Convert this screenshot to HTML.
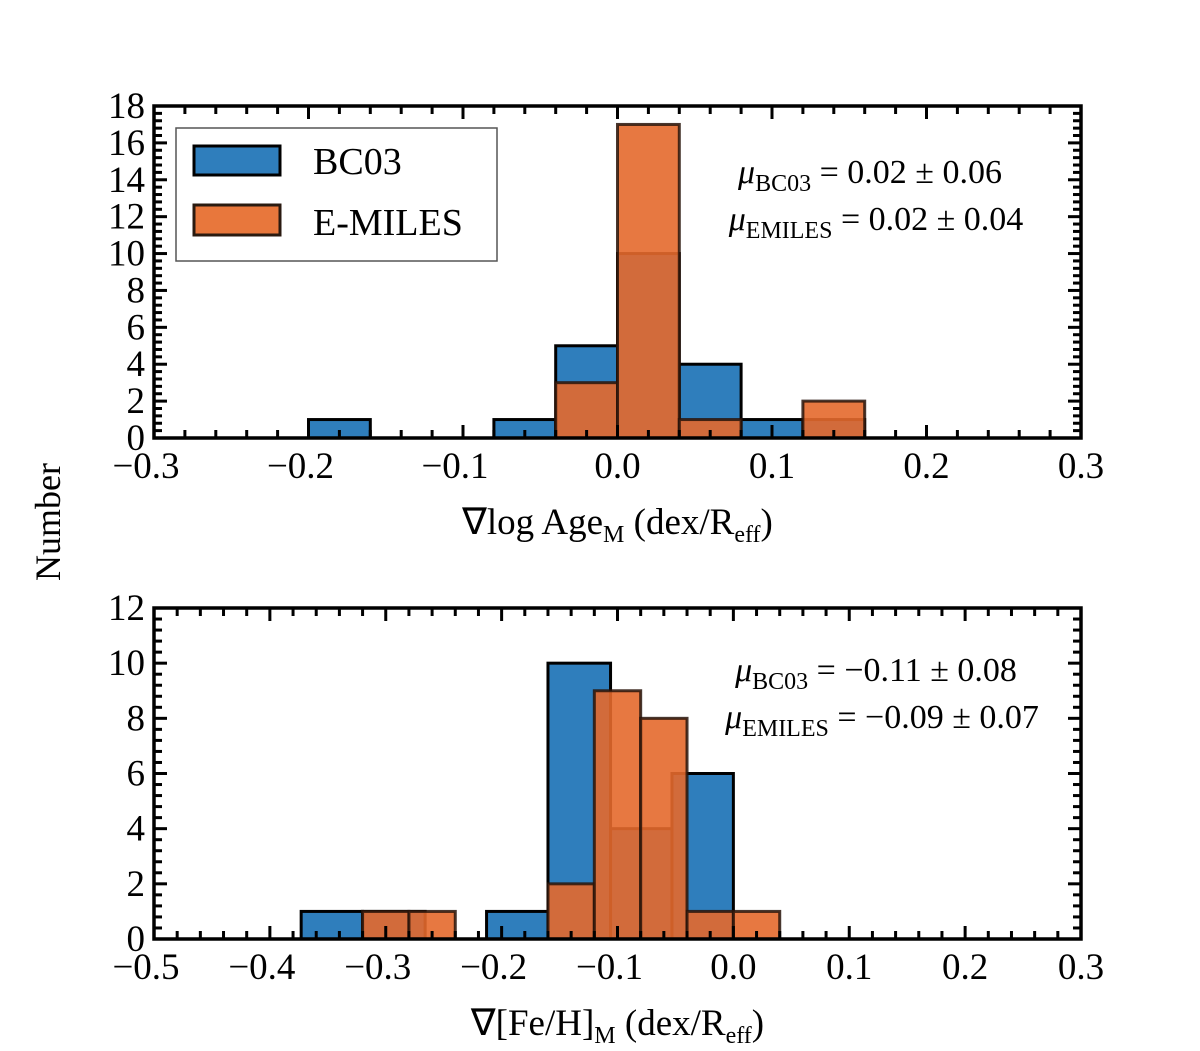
<!DOCTYPE html>
<html><head><meta charset="utf-8"><style>
body{margin:0;background:#fff}
svg text{font-family:"Liberation Serif",serif;fill:#000}
</style></head><body>
<svg id="c" width="1200" height="1046" xmlns="http://www.w3.org/2000/svg"></svg>
<script>
// Top panel data
const topBlueEdges=[-0.2,-0.16,-0.12,-0.08,-0.04,0,0.04,0.08,0.12,0.16];
const topBlueCounts=[1,0,0,1,5,10,4,1,1];
const topOrangeEdges=[-0.04,0,0.04,0.08,0.12,0.16];
const topOrangeCounts=[3,17,1,0,2];
const topXTicks=[-0.3,-0.2,-0.1,0.0,0.1,0.2,0.3];
const topXTickLabels=["\u22120.3","\u22120.2","\u22120.1","0.0","0.1","0.2","0.3"];
const topYTicks=[0,2,4,6,8,10,12,14,16,18];
// Bottom panel data
const botBlueEdges=[-0.373,-0.32,-0.266,-0.213,-0.16,-0.106,-0.053,0.0];
const botBlueCounts=[1,1,0,1,10,4,6];
const botOrangeEdges=[-0.32,-0.28,-0.24,-0.2,-0.16,-0.12,-0.08,-0.04,0,0.04];
const botOrangeCounts=[1,1,0,0,2,9,8,1,1];
const botXTicks=[-0.5,-0.4,-0.3,-0.2,-0.1,0.0,0.1,0.2,0.3];
const botXTickLabels=["\u22120.5","\u22120.4","\u22120.3","\u22120.2","\u22120.1","0.0","0.1","0.2","0.3"];
const botYTicks=[0,2,4,6,8,10,12];

const svg=document.getElementById('c');
const NS='http://www.w3.org/2000/svg';
function mk(tag,attrs,parent){const e=document.createElementNS(NS,tag);for(const k in attrs)e.setAttribute(k,attrs[k]);(parent||svg).appendChild(e);return e;}

function panel(name,box,xr,yr,blueE,blueC,orE,orC,xt,xtl,yt,xlabelHTML,ann){
  const g=mk('g',{});
  
  
  const X=v=>box.l+(v-xr[0])/(xr[1]-xr[0])*(box.r-box.l);
  const Y=v=>box.b-(v-yr[0])/(yr[1]-yr[0])*(box.b-box.t);
  function bars(E,C,fill,op,stroke,nm){
    for(let i=0;i<C.length;i++){
      if(C[i]<=0)continue;
      const r=mk('rect',{x:X(E[i]),y:Y(C[i]),width:X(E[i+1])-X(E[i]),height:Y(0)-Y(C[i]),fill:fill,'fill-opacity':op,stroke:stroke,'stroke-width':3},g);
      
      
    }
  }
  bars(blueE,blueC,'#2f7ebc',1,'#000','bc03');
  bars(orE,orC,'#e4692c',0.9,'rgba(40,20,10,0.85)','emiles');
  const step=0.02;
  for(let v=xr[0];v<=xr[1]+1e-9;v+=step){
    const x=X(v);
    const major=Math.abs(Math.round(v*10)-v*10)<1e-6;
    const L=major?13:8;
    mk('line',{x1:x,x2:x,y1:box.b,y2:box.b-L,stroke:'#000','stroke-width':3},g);
    mk('line',{x1:x,x2:x,y1:box.t,y2:box.t+L,stroke:'#000','stroke-width':3},g);
  }
  for(let v=yr[0];v<=yr[1]+1e-9;v+=0.4){
    const y=Y(v);
    const major=Math.abs(v/2-Math.round(v/2))<1e-6;
    const L=major?13:8;
    mk('line',{x1:box.l,x2:box.l+L,y1:y,y2:y,stroke:'#000','stroke-width':3},g);
    mk('line',{x1:box.r,x2:box.r-L,y1:y,y2:y,stroke:'#000','stroke-width':3},g);
  }
  for(const v of yt){
    const t=mk('text',{x:box.l-9,y:Y(v)+12,'text-anchor':'end','font-size':37},g);t.textContent=v;
    
    
  }
  xt.forEach((v,i)=>{
    const t=mk('text',{x:X(v)-(xtl[i].startsWith('\u2212')?8:0),y:box.b+40,'text-anchor':'middle','font-size':37},g);t.textContent=xtl[i];
    
    
  });
  const fr=mk('rect',{x:box.l,y:box.t,width:box.r-box.l,height:box.b-box.t,fill:'none',stroke:'#000','stroke-width':3.5},g);
  
  
  const xl=mk('text',{x:(box.l+box.r)/2,y:box.b+96,'text-anchor':'middle','font-size':37},g);
  xl.innerHTML=xlabelHTML;
  
  
  ann.forEach(a=>{
    const t=mk('text',{x:a.x,y:a.y,'text-anchor':'middle','font-size':34},g);
    t.innerHTML=a.h;
    
    
  });
}
panel('top-panel',{l:154,r:1081,t:106,b:438},[-0.3,0.3],[0,18],topBlueEdges,topBlueCounts,topOrangeEdges,topOrangeCounts,topXTicks,topXTickLabels,topYTicks,
 '\u2207log Age<tspan font-size="24" dy="8">M</tspan><tspan dy="-8"> (dex/R</tspan><tspan font-size="24" dy="8">eff</tspan><tspan dy="-8">)</tspan>',
 [{x:870,y:183,h:'<tspan font-style="italic">\u03bc</tspan><tspan font-size="24" dy="8">BC03</tspan><tspan dy="-8"> = 0.02 \u00b1 0.06</tspan>'},
  {x:876,y:230,h:'<tspan font-style="italic">\u03bc</tspan><tspan font-size="24" dy="8">EMILES</tspan><tspan dy="-8"> = 0.02 \u00b1 0.04</tspan>'}]);
panel('bottom-panel',{l:154,r:1081,t:608,b:939},[-0.5,0.3],[0,12],botBlueEdges,botBlueCounts,botOrangeEdges,botOrangeCounts,botXTicks,botXTickLabels,botYTicks,
 '\u2207[Fe/H]<tspan font-size="24" dy="8">M</tspan><tspan dy="-8"> (dex/R</tspan><tspan font-size="24" dy="8">eff</tspan><tspan dy="-8">)</tspan>',
 [{x:876,y:681,h:'<tspan font-style="italic">\u03bc</tspan><tspan font-size="24" dy="8">BC03</tspan><tspan dy="-8"> = \u22120.11 \u00b1 0.08</tspan>'},
  {x:882,y:728,h:'<tspan font-style="italic">\u03bc</tspan><tspan font-size="24" dy="8">EMILES</tspan><tspan dy="-8"> = \u22120.09 \u00b1 0.07</tspan>'}]);
const lg=mk('g',{});


mk('rect',{x:176,y:128,width:321,height:133,fill:'#fff',stroke:'#555','stroke-width':1.5},lg);
const p1=mk('rect',{x:194,y:146,width:86,height:29,fill:'#2f7ebc',stroke:'#000','stroke-width':3},lg);


const p2=mk('rect',{x:194,y:205,width:86,height:30,fill:'#e8773c',stroke:'#2a1a10','stroke-width':3},lg);


const t1=mk('text',{x:313,y:174,'font-size':38},lg);t1.textContent='BC03';
const t2=mk('text',{x:313,y:235,'font-size':38},lg);t2.textContent='E-MILES';
const yl=mk('text',{x:0,y:0,'font-size':36,'text-anchor':'middle',transform:'translate(60,522) rotate(-90)'});
yl.textContent='Number';


</script>
</body></html>
